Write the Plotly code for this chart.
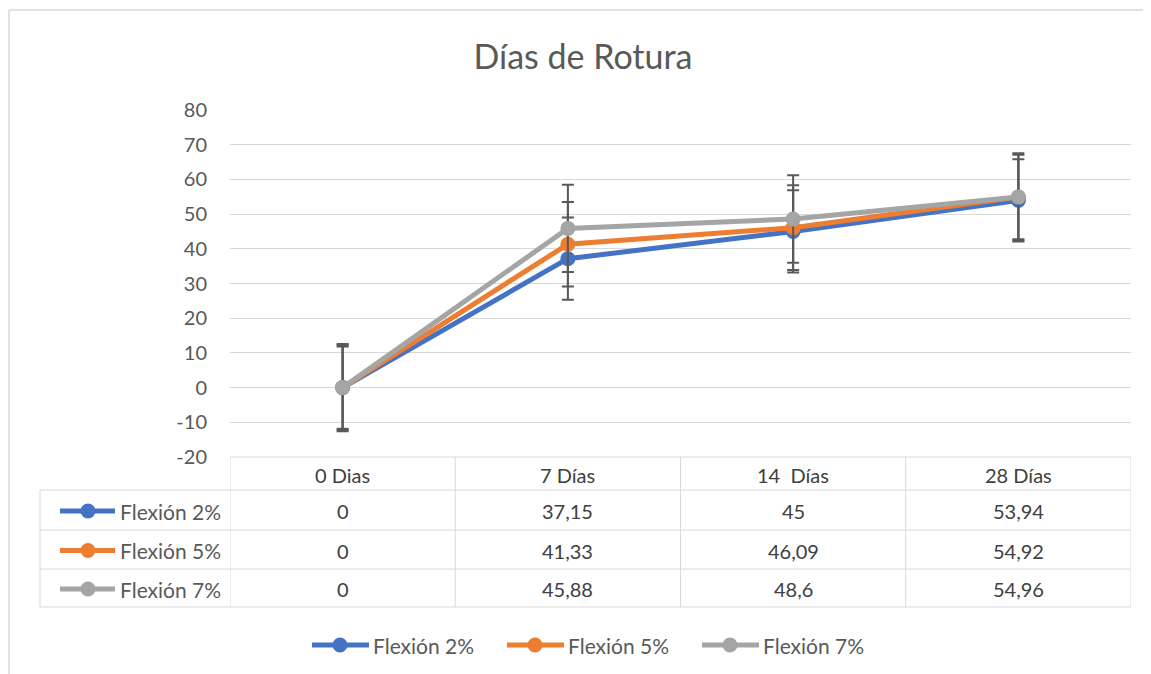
import plotly.graph_objects as go

# ---------------- data ----------------
categories = ["0 Dias", "7 Días", "14  Días", "28 Días"]
series_names = ["Flexión 2%", "Flexión 5%", "Flexión 7%"]
flex2 = [0, 37.15, 45, 53.94]
flex5 = [0, 41.33, 46.09, 54.92]
flex7 = [0, 45.88, 48.6, 54.96]
value_labels2 = ["0", "37,15", "45", "53,94"]
value_labels5 = ["0", "41,33", "46,09", "54,92"]
value_labels7 = ["0", "45,88", "48,6", "54,96"]
err2 = 11.85
err5 = 12.19
err7 = 12.60
y_ticks = [-20, -10, 0, 10, 20, 30, 40, 50, 60, 70, 80]
y_tick_labels = ["-20", "-10", "0", "10", "20", "30", "40", "50", "60", "70", "80"]

series = [
    (series_names[0], flex2, value_labels2, err2, "#4472C4"),
    (series_names[1], flex5, value_labels5, err5, "#ED7D31"),
    (series_names[2], flex7, value_labels7, err7, "#A5A5A5"),
]

OFF = 8                      # page body margin
W, H = 1143, 666
PX0, PX1, PY0, PY1 = 230, 1131, 110, 457   # plot area in screen pixels
L, R, T, B = PX0 - OFF, W - (PX1 - OFF), PY0 - OFF, H - (PY1 - OFF)
PW = PX1 - PX0
PH = PY1 - PY0
FONT = "Lato"
TXT = "#595959"
TXT2 = "#404040"
GRID = "#D9D9D9"


def px(xs):
    return (xs - PX0) / PW


def py(ys):
    return (PY1 - ys) / PH


fig = go.Figure()
xs = list(range(len(categories)))
for name, vals, _, err, col in series:
    fig.add_trace(go.Scatter(
        x=xs, y=vals, name=name, mode="lines+markers",
        line=dict(color=col, width=5),
        marker=dict(color=col, size=15),
        error_y=dict(type="data", array=[err] * len(vals), visible=True,
                     color="#595959", thickness=2, width=6),
        showlegend=False,
    ))

shapes = []
annotations = []

# outer chart border (top and left edges visible)
shapes.append(dict(type="line", xref="paper", yref="paper",
                   x0=px(9), x1=px(1160), y0=py(10), y1=py(10),
                   line=dict(color=GRID, width=1.5)))
shapes.append(dict(type="line", xref="paper", yref="paper",
                   x0=px(9), x1=px(9), y0=py(10), y1=py(700),
                   line=dict(color=GRID, width=1.5)))

header_top, header_bot = 457, 490
row_edges = [490, 530, 569, 607]
line_style = dict(color=GRID, width=1)

shapes.append(dict(type="line", xref="x", yref="paper", x0=-0.5, x1=len(categories) - 0.5,
                   y0=py(header_top), y1=py(header_top), line=line_style))
for ye in row_edges:
    shapes.append(dict(type="line", xref="paper", yref="paper", x0=px(40), x1=px(PX1),
                       y0=py(ye), y1=py(ye), line=line_style))
for i in range(len(categories) + 1):
    shapes.append(dict(type="line", xref="x", yref="paper", x0=i - 0.5, x1=i - 0.5,
                       y0=py(header_top), y1=py(row_edges[-1]), line=line_style))
shapes.append(dict(type="line", xref="paper", yref="paper", x0=px(40), x1=px(40),
                   y0=py(row_edges[0]), y1=py(row_edges[-1]), line=line_style))

for i, c in enumerate(categories):
    annotations.append(dict(x=i, y=py((header_top + header_bot) / 2 + 1), xref="x", yref="paper",
                            xanchor="center", yanchor="middle",
                            text=c, showarrow=False, font=dict(family=FONT, size=20, color=TXT2)))

for r, (name, vals, labels, err, col) in enumerate(series):
    yc = py((row_edges[r] + row_edges[r + 1]) / 2 + 1)
    shapes.append(dict(type="line", xref="paper", yref="paper", x0=px(60), x1=px(115),
                       y0=yc, y1=yc, line=dict(color=col, width=5)))
    shapes.append(dict(type="circle", xref="paper", yref="paper", xsizemode="pixel", ysizemode="pixel",
                       xanchor=px(88), yanchor=yc, x0=-7.5, x1=7.5, y0=-7.5, y1=7.5,
                       fillcolor=col, line=dict(color=col, width=0)))
    annotations.append(dict(x=px(118), y=yc, xref="paper", yref="paper", text=name,
                            xanchor="left", yanchor="middle",
                            showarrow=False, font=dict(family=FONT, size=21, color=TXT)))
    for i, lab in enumerate(labels):
        annotations.append(dict(x=i, y=yc, xref="x", yref="paper", text=lab, showarrow=False,
                                xanchor="center", yanchor="middle",
                                font=dict(family=FONT, size=20, color=TXT2)))

legend_x = [312, 507, 702]
ly = py(645)
for (name, vals, labels, err, col), lx in zip(series, legend_x):
    shapes.append(dict(type="line", xref="paper", yref="paper", x0=px(lx), x1=px(lx + 57),
                       y0=ly, y1=ly, line=dict(color=col, width=5)))
    shapes.append(dict(type="circle", xref="paper", yref="paper", xsizemode="pixel", ysizemode="pixel",
                       xanchor=px(lx + 28), yanchor=ly, x0=-7.5, x1=7.5, y0=-7.5, y1=7.5,
                       fillcolor=col, line=dict(color=col, width=0)))
    annotations.append(dict(x=px(lx + 59), y=ly, xref="paper", yref="paper", text=name,
                            xanchor="left", yanchor="middle",
                            showarrow=False, font=dict(family=FONT, size=21, color=TXT)))

fig.update_layout(
    width=W, height=H,
    margin=dict(l=L, r=R, t=T, b=B),
    paper_bgcolor="white", plot_bgcolor="white",
    title=dict(text="Días de Rotura", x=(583 - OFF) / W, xref="container", xanchor="center",
               y=1 - (57 - OFF) / H, yref="container", yanchor="middle",
               font=dict(family=FONT, size=34, color=TXT)),
    xaxis=dict(range=[-0.5, len(categories) - 0.5], showticklabels=False, showgrid=False,
               zeroline=False, showline=False, fixedrange=True),
    yaxis=dict(range=[-20, 80], tickvals=y_ticks, ticktext=y_tick_labels,
               showgrid=True, gridcolor=GRID, gridwidth=1,
               zeroline=False, showline=False, ticks="", ticklabelstandoff=22,
               tickfont=dict(family=FONT, size=20, color=TXT)),
    shapes=shapes, annotations=annotations,
    font=dict(family=FONT),
)

fig.write_html("out.html")
